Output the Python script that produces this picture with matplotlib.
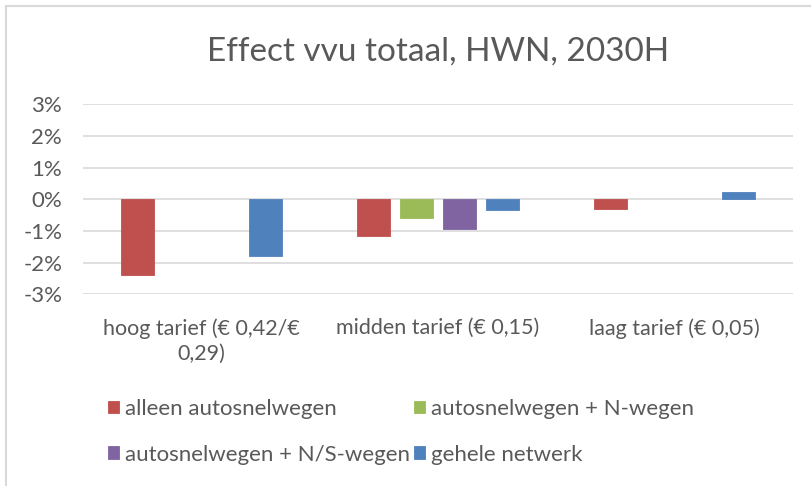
import numpy as np
import matplotlib
matplotlib.use("Agg")
import matplotlib.pyplot as plt
from matplotlib.patches import Rectangle
from matplotlib.ticker import FuncFormatter

plt.rcParams['font.family'] = ['Lato', 'DejaVu Sans']

# data (fractions); None = no bar
categories = ["hoog tarief (€ 0,42/€\n0,29)", "midden tarief (€ 0,15)", "laag tarief (€ 0,05)"]
series = ["alleen autosnelwegen", "autosnelwegen + N-wegen",
          "autosnelwegen + N/S-wegen", "gehele netwerk"]
alleen_asw = [-0.0239, -0.0116, -0.0031]
asw_n = [None, -0.0058, None]
asw_ns = [None, -0.0093, None]
gehele_netwerk = [-0.0179, -0.0035, 0.0024]
colors = ["#C0504D", "#9BBB59", "#8064A2", "#4F81BD"]

values = [alleen_asw, asw_n, asw_ns, gehele_netwerk]
grey = "#595959"

fig = plt.figure(figsize=(8.11, 4.86), dpi=100)
ax = fig.add_axes([83/811, 1 - 294.3/486, 710/811, 190/486])

x = np.arange(len(categories))
step, width = 0.181, 0.14
bars = []
for i, (name, vals, c) in enumerate(zip(series, values, colors)):
    v = np.array([np.nan if a is None else a for a in vals], dtype=float)
    bars.append(ax.bar(x + (i - 1.5) * step, v, width, color=c, label=name,
                       edgecolor=c, linewidth=0.6, zorder=3))

ax.set_xlim(-0.5, 2.5)
ax.set_ylim(-0.03, 0.03)
ax.set_yticks(np.arange(-0.03, 0.031, 0.01))
ax.yaxis.set_major_formatter(FuncFormatter(lambda v, p: "{:.0f}%".format(round(v * 100))))
ax.grid(axis='y', color="#D9D9D9", linewidth=1.2, zorder=0)
for s in ax.spines.values():
    s.set_visible(False)
ax.tick_params(axis='both', length=0, colors=grey)
ax.tick_params(axis='y', pad=15, labelsize=16)
ax.tick_params(axis='x', pad=17, labelsize=15.5)
ax.set_xticks(x)
ax.set_xticklabels(categories, linespacing=1.35)

fig.text(0.5 * (83 + 793) / 811, 1 - 52/486, "Effect vvu totaal, HWN, 2030H",
         color=grey, fontsize=24, ha='center', va='center')

# legend fills column-wise, so order for rows: red/green, purple/blue
order = [0, 2, 1, 3]
leg = fig.legend([bars[i] for i in order], [series[i] for i in order],
                 loc='upper left', bbox_to_anchor=(108/811, 1 - 399/486), ncol=2,
                 frameon=False, fontsize=16, handlelength=0.5, handleheight=0.5,
                 handletextpad=0.25, columnspacing=0.2, labelspacing=1.15,
                 borderpad=0, borderaxespad=0)
for t in leg.get_texts():
    t.set_color(grey)

# chart frame
fig.add_artist(Rectangle((6/811, -0.1), 1.0, 1.1 - 6/486, transform=fig.transFigure,
                         fill=False, edgecolor="#D9D9D9", linewidth=1.5))

fig.savefig("out.png", dpi=100)
